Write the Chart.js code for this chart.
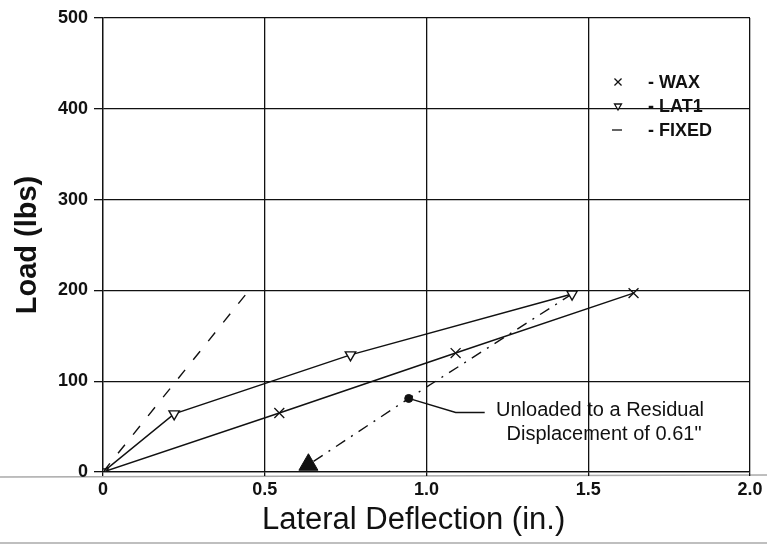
<!DOCTYPE html>
<html>
<head>
<meta charset="utf-8">
<title>Load vs Lateral Deflection</title>
<script src="https://cdn.jsdelivr.net/npm/chart.js@4.4.1/dist/chart.umd.min.js"></script>
<style>
    body { margin: 0; background: #fff; }
    #wrap { width: 767px; height: 547px; }
</style>
</head>
<body>
<div id="wrap"><canvas id="loadChart" width="767" height="547"></canvas></div>
<script>
// data: x = deflection (in.), y = load (lbs)
const waxX = [0, 0.545, 1.09, 1.64];
const waxY = [0, 65, 131, 197];
const lat1X = [0, 0.22, 0.765, 1.45];
const lat1Y = [0, 64, 129, 196];
const fixedX = [0, 0.44];
const fixedY = [0, 195];
const unloadX = [1.45, 0.945, 0.635];
const unloadY = [196, 81, 8];

const xTickLabels = ['0', '0.5', '1.0', '1.5', '2.0'];
const yTickLabels = ['0', '100', '200', '300', '400', '500'];
const noteLines = ['Unloaded to a Residual', 'Displacement of 0.61"'];

const FONT = "'Liberation Sans', Arial, sans-serif";
const INK = '#111';

function toPoints(xs, ys) {
    return xs.map((x, i) => ({ x: x, y: ys[i] }));
}

// legend drawn inside the plot, markers then "- NAME"
const legendInside = {
    id: 'legendInside',
    afterDatasetsDraw(chart) {
        const ctx = chart.ctx;
        const items = chart.data.datasets.filter(ds => ds.inLegend);
        ctx.save();
        ctx.fillStyle = INK;
        ctx.strokeStyle = INK;
        ctx.font = 'bold 18px ' + FONT;
        ctx.textBaseline = 'middle';
        items.forEach((ds, i) => {
            const y = 82 + i * 24;
            const x = 618;
            ctx.lineWidth = 1.3;
            if (ds.legendMark === 'dash') {
                ctx.beginPath();
                ctx.moveTo(x - 6, y);
                ctx.lineTo(x + 4, y);
                ctx.stroke();
            } else {
                ctx.fillStyle = '#fff';
                Chart.helpers.drawPoint(ctx, {
                    pointStyle: ds.pointStyle,
                    rotation: ds.pointRotation || 0,
                    radius: ds.legendMark,
                    borderWidth: 1.3
                }, x, y);
                ctx.fillStyle = INK;
            }
            ctx.fillText('- ' + ds.label, 648, y + 1);
        });
        ctx.restore();
    }
};

// callout from the unloading dot to the note
const unloadNote = {
    id: 'unloadNote',
    afterDatasetsDraw(chart) {
        const ctx = chart.ctx;
        const xs = chart.scales.x, ys = chart.scales.y;
        const px = xs.getPixelForValue(unloadX[1]);
        const py = ys.getPixelForValue(unloadY[1]);
        ctx.save();
        ctx.strokeStyle = INK;
        ctx.lineWidth = 1.4;
        ctx.beginPath();
        ctx.moveTo(px, py);
        ctx.lineTo(px + 47, py + 14);
        ctx.lineTo(px + 76, py + 14);
        ctx.stroke();
        ctx.fillStyle = INK;
        ctx.font = '20px ' + FONT;
        ctx.textAlign = 'center';
        ctx.textBaseline = 'middle';
        ctx.fillText(noteLines[0], 600, 410);
        ctx.fillText(noteLines[1], 604, 434);
        ctx.restore();
    }
};

// faint scanner lines across the page
const scanLines = {
    id: 'scanLines',
    beforeDraw(chart) {
        const ctx = chart.ctx;
        ctx.save();
        ctx.strokeStyle = '#aaa';
        ctx.lineWidth = 1.5;
        ctx.beginPath();
        ctx.moveTo(0, 477);
        ctx.lineTo(chart.width, 475);
        ctx.moveTo(0, 543);
        ctx.lineTo(chart.width, 543);
        ctx.stroke();
        ctx.restore();
    }
};

const ctx = document.getElementById('loadChart').getContext('2d');

new Chart(ctx, {
    type: 'line',
    data: {
        datasets: [
            {
                label: 'WAX',
                data: toPoints(waxX, waxY),
                borderColor: INK,
                borderWidth: 1.5,
                pointStyle: 'crossRot',
                pointRadius: 7,
                pointBorderColor: INK,
                pointBorderWidth: 1.3,
                inLegend: true,
                legendMark: 5
            },
            {
                label: 'LAT1',
                data: toPoints(lat1X, lat1Y),
                borderColor: INK,
                borderWidth: 1.5,
                pointStyle: 'triangle',
                pointRotation: 180,
                pointRadius: 6,
                pointBackgroundColor: '#fff',
                pointBorderColor: INK,
                pointBorderWidth: 1.4,
                inLegend: true,
                legendMark: 4
            },
            {
                label: 'FIXED',
                data: toPoints(fixedX, fixedY),
                borderColor: INK,
                borderWidth: 1.4,
                borderDash: [11, 13],
                pointRadius: 0,
                inLegend: true,
                legendMark: 'dash'
            },
            {
                label: 'Unload',
                data: toPoints(unloadX, unloadY),
                borderColor: INK,
                borderWidth: 1.4,
                borderDash: [11, 7, 2, 7],
                pointStyle: ['circle', 'circle', 'triangle'],
                pointRadius: [0, 4, 11],
                pointBackgroundColor: INK,
                pointBorderColor: INK,
                pointBorderWidth: 1
            }
        ]
    },
    options: {
        responsive: false,
        animation: false,
        devicePixelRatio: 1,
        layout: { padding: { left: 0, right: 17, top: 18, bottom: 0 } },
        plugins: {
            legend: { display: false },
            tooltip: { enabled: false }
        },
        scales: {
            x: {
                type: 'linear',
                min: 0,
                max: 2,
                afterFit: scale => { scale.height = 75; },
                ticks: {
                    stepSize: 0.5,
                    padding: 3,
                    color: INK,
                    font: { family: FONT, size: 18, weight: 'bold' },
                    maxRotation: 0,
                    callback: (value, index) => xTickLabels[index]
                },
                grid: { color: INK, lineWidth: 1.3, tickLength: 4 },
                border: { color: INK, width: 1.3 },
                title: {
                    display: true,
                    // trailing spaces nudge the centred title a little left, as in the original
                    text: 'Lateral Deflection (in.)\u00a0\u00a0\u00a0',
                    color: INK,
                    font: { family: FONT, size: 31 },
                    padding: { top: 0, bottom: 8 }
                }
            },
            y: {
                type: 'linear',
                min: 0,
                max: 500,
                afterFit: scale => { scale.width = 103; },
                ticks: {
                    stepSize: 100,
                    padding: 6,
                    color: INK,
                    font: { family: FONT, size: 18, weight: 'bold' },
                    callback: (value, index) => yTickLabels[index]
                },
                grid: { color: INK, lineWidth: 1.3, tickLength: 9 },
                border: { color: INK, width: 1.3 },
                title: {
                    display: true,
                    text: 'Load (lbs)',
                    color: INK,
                    font: { family: FONT, size: 29, weight: 'bold' },
                    padding: { top: 11, bottom: 0 }
                }
            }
        }
    },
    plugins: [scanLines, legendInside, unloadNote]
});
</script>
</body>
</html>
